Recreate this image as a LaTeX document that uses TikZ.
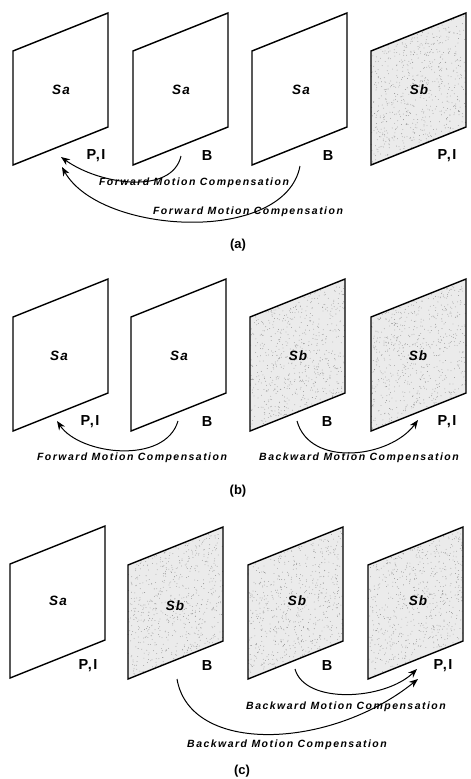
\documentclass[tikz,border=0pt]{standalone}
\usepackage{fontspec}
\setmainfont{Liberation Sans}
\newfontfamily\mcfont[LetterSpace=14]{Liberation Sans Bold Italic}
\newfontfamily\sfont[LetterSpace=9]{Liberation Sans Bold Italic}
\newfontfamily\lblfont[LetterSpace=10]{Liberation Sans Bold}
\newfontfamily\capfont{Liberation Sans Bold}
\usetikzlibrary{arrows.meta}
\tikzset{
  frm/.style={draw=black,line width=1.4pt,line join=miter},
  mc/.style={draw=black,line width=1pt,-{Stealth[length=9pt,width=7pt]}},
  mtext/.style={font=\mcfont\fontsize{10.5}{12}\selectfont,inner sep=0pt},
  stext/.style={font=\sfont\fontsize{13.5}{15}\selectfont,inner sep=0pt},
  ltext/.style={font=\lblfont\fontsize{14.5}{16}\selectfont,inner sep=0pt},
  ctext/.style={font=\capfont\fontsize{13}{15}\selectfont,inner sep=0pt},
}
\newcommand\PlainFrame[2]{%
  \draw[frm] ({#1},{#2+38}) -- ({#1+95},{#2}) -- ({#1+95},{#2+114}) -- ({#1},{#2+152}) -- cycle;}
\newcommand\DotFrame[2]{%
  \fill[black!8] ({#1},{#2+38}) -- ({#1+95},{#2}) -- ({#1+95},{#2+114}) -- ({#1},{#2+152}) -- cycle;
  \foreach \k in {1,...,650}{%
    \pgfmathsetmacro\uu{rnd}\pgfmathsetmacro\vv{rnd}%
    \fill[black!45] ({#1+95*\uu},{#2+38*(1-\uu)+114*\vv}) circle (0.4);}
  \draw[frm] ({#1},{#2+38}) -- ({#1+95},{#2}) -- ({#1+95},{#2+114}) -- ({#1},{#2+152}) -- cycle;}
\begin{document}
\begin{tikzpicture}[x=1pt,y=-1pt]
\pgfmathsetseed{7}
\useasboundingbox (0,0) rectangle (471,779);
% ---------------- (a)
\PlainFrame{13}{13}
\PlainFrame{133}{13}
\PlainFrame{252}{13}
\DotFrame{371}{13}
\node[stext] (a1) at (61,90) {Sa};
\node[stext] (a2) at (181,90) {Sa};
\node[stext] (a3) at (301,90) {Sa};
\node[stext] (a4) at (419,90) {Sb};
\node[ltext] (al1) at (96,156) {P,I};
\node[ltext] (al2) at (207,156) {B};
\node[ltext] (al3) at (328,156) {B};
\node[ltext] (al4) at (447,156) {P,I};
\coordinate (as1) at (181,156);
\coordinate (ae1) at (61,157);
\coordinate (as2) at (300,166);
\coordinate (ae2) at (62,167);
\draw[mc] (as1) .. controls (172,195) and (100,185) .. (ae1);
\draw[mc] (as2) .. controls (285,245) and (100,235) .. (ae2);
\node[mtext] (at1) at (194,183) {Forward Motion Compensation};
\node[mtext] (at2) at (248,212) {Forward Motion Compensation};
\node[ctext] (acap) at (238,245) {(a)};
% ---------------- (b)
\PlainFrame{13}{279}
\PlainFrame{131}{279}
\DotFrame{250}{279}
\DotFrame{371}{279}
\node[stext] (b1) at (59,356) {Sa};
\node[stext] (b2) at (179,356) {Sa};
\node[stext] (b3) at (298,356) {Sb};
\node[stext] (b4) at (418,356) {Sb};
\node[ltext] (bl1) at (90,422) {P,I};
\node[ltext] (bl2) at (207,422) {B};
\node[ltext] (bl3) at (327,422) {B};
\node[ltext] (bl4) at (447,422) {P,I};
\coordinate (bs1) at (178,421);
\coordinate (be1) at (57,421);
\coordinate (bs2) at (297,421);
\coordinate (be2) at (418,420);
\draw[mc] (bs1) .. controls (165,465) and (80,455) .. (be1);
\draw[mc] (bs2) .. controls (310,468) and (390,458) .. (be2);
\node[mtext] (bt1) at (132,458) {Forward Motion Compensation};
\node[mtext] (bt2) at (359,458) {Backward Motion Compensation};
\node[ctext] (bcap) at (238,491) {(b)};
% ---------------- (c)
\PlainFrame{10}{526}
\DotFrame{128}{527}
\DotFrame{248}{527}
\DotFrame{368}{527}
\node[stext] (c1) at (58,601) {Sa};
\node[stext] (c2) at (175,606) {Sb};
\node[stext] (c3) at (297,601) {Sb};
\node[stext] (c4) at (418,601) {Sb};
\node[ltext] (cl1) at (88,666) {P,I};
\node[ltext] (cl2) at (207,666) {B};
\node[ltext] (cl3) at (327,666) {B};
\node[ltext] (cl4) at (443,666) {P,I};
\coordinate (cs1) at (295,669);
\coordinate (ce1) at (417,669);
\coordinate (cs2) at (177,679);
\coordinate (ce2) at (418,679);
\draw[mc] (cs1) .. controls (305,705) and (385,700) .. (ce1);
\draw[mc] (cs2) .. controls (190,755) and (330,750) .. (ce2);
\node[mtext] (ct1) at (346,707) {Backward Motion Compensation};
\node[mtext] (ct2) at (287,745) {Backward Motion Compensation};
\node[ctext] (ccap) at (242,771) {(c)};
\end{tikzpicture}
\end{document}
